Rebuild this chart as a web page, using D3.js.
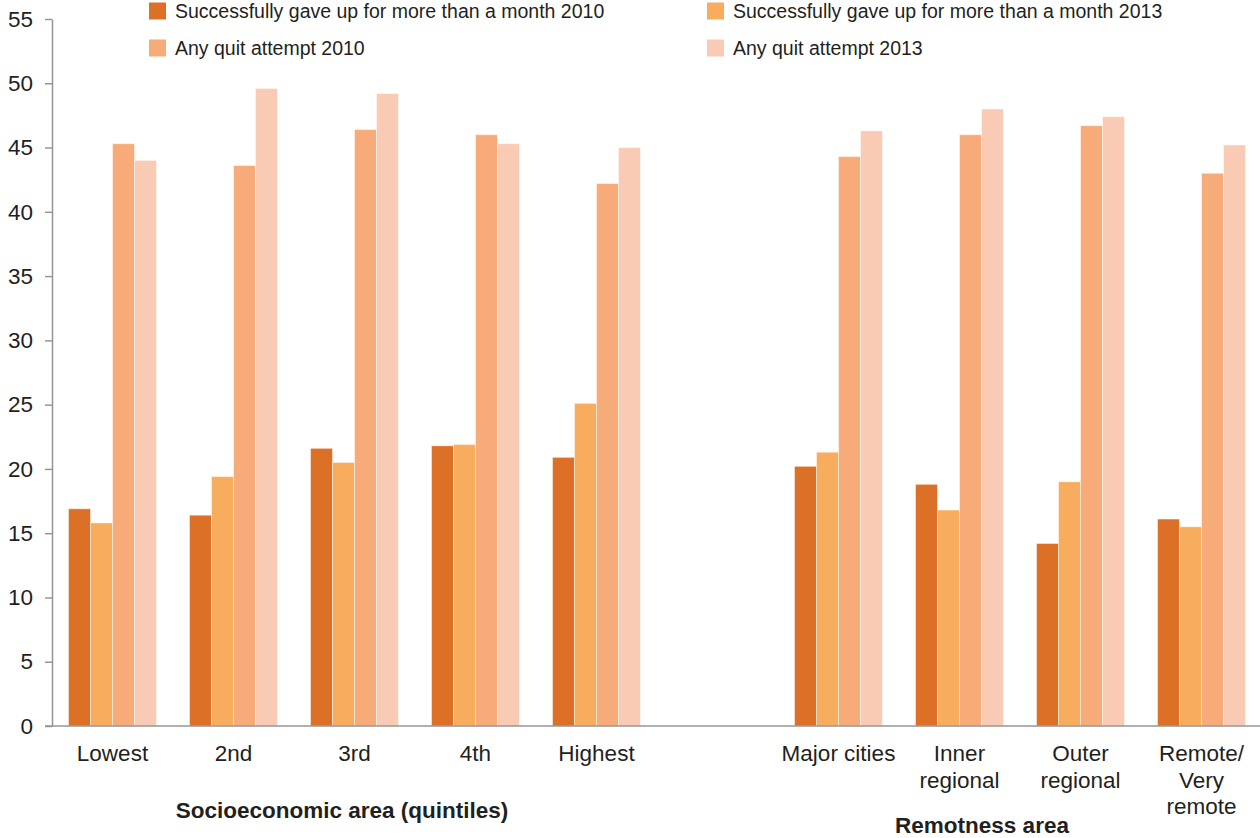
<!DOCTYPE html>
<html>
<head>
<meta charset="utf-8">
<script src="https://cdn.jsdelivr.net/npm/d3@7"></script>
<style>
  body { margin: 0; background: #fff; }
  svg { display: block; font-family: 'Liberation Sans', Arial, sans-serif; }
</style>
</head>
<body>
<div id="chart"></div>
<script>
const seCategories = ['Lowest', '2nd', '3rd', '4th', 'Highest'];
const raCategories = ['Major cities', 'Inner regional', 'Outer regional', 'Remote/ Very remote'];
const seriesNames = [
  'Successfully gave up for more than a month 2010',
  'Successfully gave up for more than a month 2013',
  'Any quit attempt 2010',
  'Any quit attempt 2013',
];
const gaveUp2010 = [16.9, 16.4, 21.6, 21.8, 20.9, 20.2, 18.8, 14.2, 16.1];
const gaveUp2013 = [15.8, 19.4, 20.5, 21.9, 25.1, 21.3, 16.8, 19.0, 15.5];
const attempt2010 = [45.3, 43.6, 46.4, 46.0, 42.2, 44.3, 46.0, 46.7, 43.0];
const attempt2013 = [44.0, 49.6, 49.2, 45.3, 45.0, 46.3, 48.0, 47.4, 45.2];
const yTicks = [0, 5, 10, 15, 20, 25, 30, 35, 40, 45, 50, 55];
const labelLines = {
  'Inner regional': ['Inner', 'regional'],
  'Outer regional': ['Outer', 'regional'],
  'Remote/ Very remote': ['Remote/', 'Very', 'remote'],
};

const colors = ['#dd7027', '#f8ac5e', '#f7ab78', '#f9cbb5'];
const textColor = '#231f20';
const axisColor = '#939598';

const size = { width: 1260, height: 838 };
const margin = { top: 19, right: -2, bottom: 112, left: 52 };

const categories = [...seCategories, 'gap', ...raCategories];
const seriesValues = [gaveUp2010, gaveUp2013, attempt2010, attempt2013];
const dataCats = [...seCategories, ...raCategories];
const data = dataCats.map((c, i) => ({
  cat: c,
  values: seriesValues.map((s, j) => ({ key: j, value: s[i] })),
}));

const svg = d3.select('#chart').append('svg')
  .attr('width', size.width)
  .attr('height', size.height);

const x = d3.scaleBand()
  .domain(categories)
  .range([margin.left, size.width - margin.right])
  .paddingInner(0.273)
  .paddingOuter(0.1365);

const xSub = d3.scaleBand()
  .domain(d3.range(seriesNames.length))
  .range([0, x.bandwidth()]);

const y = d3.scaleLinear()
  .domain([0, 55])
  .range([size.height - margin.bottom, margin.top]);

// bars
svg.append('g')
  .selectAll('g')
  .data(data)
  .join('g')
  .attr('transform', (d) => `translate(${x(d.cat)},0)`)
  .selectAll('rect')
  .data((d) => d.values)
  .join('rect')
  .attr('x', (d) => xSub(d.key))
  .attr('width', xSub.bandwidth())
  .attr('y', (d) => y(d.value))
  .attr('height', (d) => y(0) - y(d.value))
  .attr('fill', (d) => colors[d.key])
  .attr('stroke', 'rgba(255,255,255,0.45)')
  .attr('stroke-width', 1);

// y axis
const yAxis = svg.append('g')
  .attr('transform', `translate(${margin.left},0)`)
  .call(d3.axisLeft(y).tickValues(yTicks).tickSize(7).tickSizeOuter(0).tickPadding(12));
yAxis.select('.domain').attr('stroke', axisColor).attr('stroke-width', 1.5);
yAxis.selectAll('.tick line').attr('stroke', axisColor).attr('stroke-width', 1.5);
yAxis.selectAll('.tick text')
  .attr('fill', textColor)
  .style('font-size', '22.5px')
  .style('font-family', "'Liberation Sans', Arial, sans-serif");

// x axis baseline
svg.append('line')
  .attr('x1', margin.left - 7)
  .attr('x2', size.width)
  .attr('y1', y(0))
  .attr('y2', y(0))
  .attr('stroke', axisColor)
  .attr('stroke-width', 1.5);

// category labels
const catLabels = svg.append('g')
  .selectAll('text')
  .data(dataCats)
  .join('text')
  .attr('x', (d) => x(d) + x.bandwidth() / 2)
  .attr('y', y(0) + 35)
  .attr('text-anchor', 'middle')
  .attr('fill', textColor)
  .style('font-size', '22.5px');

catLabels.each(function (d) {
  const lines = labelLines[d] || [d];
  d3.select(this).selectAll('tspan')
    .data(lines)
    .join('tspan')
    .attr('x', x(d) + x.bandwidth() / 2)
    .attr('dy', (l, i) => (i === 0 ? 0 : 26.5))
    .text((l) => l);
});

// group titles
svg.append('text')
  .attr('x', 342)
  .attr('y', 818)
  .attr('text-anchor', 'middle')
  .attr('font-weight', 'bold')
  .attr('fill', textColor)
  .style('font-size', '22.5px')
  .text('Socioeconomic area (quintiles)');

svg.append('text')
  .attr('x', 982)
  .attr('y', 833)
  .attr('text-anchor', 'middle')
  .attr('font-weight', 'bold')
  .attr('fill', textColor)
  .style('font-size', '22.5px')
  .text('Remotness area');

// legend
const legendPos = [
  { x: 149, y: 11 },
  { x: 707, y: 11 },
  { x: 149, y: 48 },
  { x: 707, y: 48 },
];
const legend = svg.append('g')
  .selectAll('g')
  .data(seriesNames)
  .join('g')
  .attr('transform', (d, i) => `translate(${legendPos[i].x},${legendPos[i].y})`);

legend.append('rect')
  .attr('x', 0)
  .attr('y', -8.5)
  .attr('width', 17)
  .attr('height', 17)
  .attr('fill', (d, i) => colors[i]);

legend.append('text')
  .attr('x', 26)
  .attr('y', 0)
  .attr('dy', '0.35em')
  .attr('fill', textColor)
  .style('font-size', '19.5px')
  .text((d) => d);
</script>
</body>
</html>
